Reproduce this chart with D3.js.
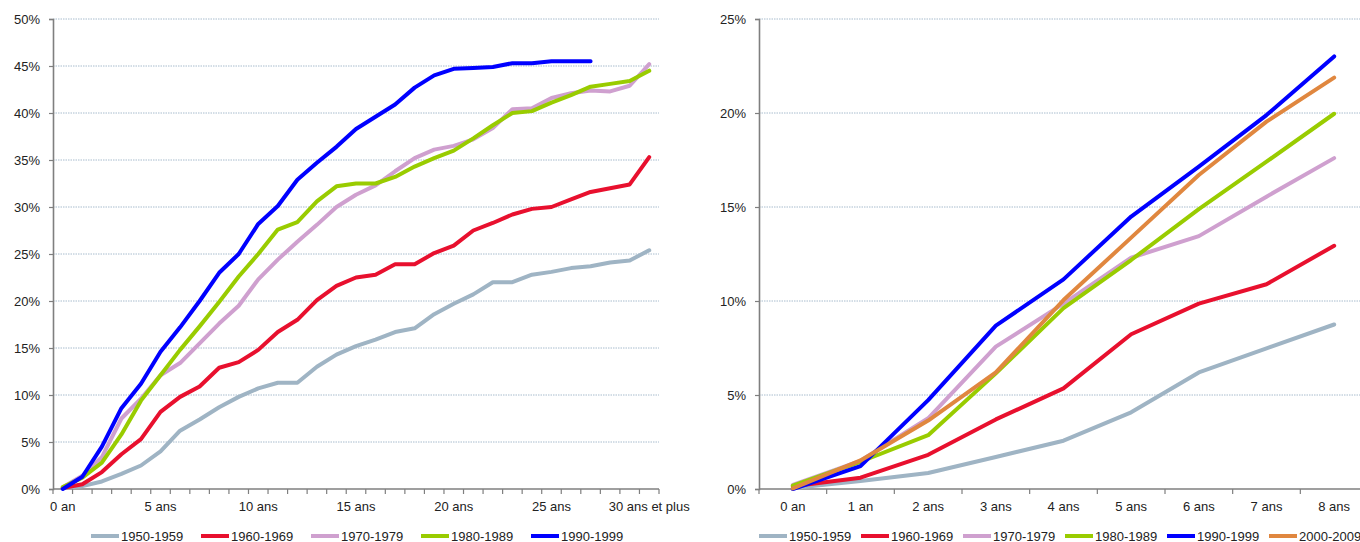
<!DOCTYPE html>
<html>
<head>
<meta charset="utf-8">
<script src="https://cdn.jsdelivr.net/npm/d3@7/dist/d3.min.js"></script>
<style>
  body { margin: 0; background: #fff; }
  svg { display: block; font-family: "Liberation Sans", Arial, sans-serif; }
</style>
</head>
<body>
<svg id="chart" width="1360" height="542"></svg>
<script>
// ---------- DATA ----------
const seriesNames = ["1950-1959", "1960-1969", "1970-1979", "1980-1989", "1990-1999", "2000-2009"];
const seriesColors = ["#9fb4c4", "#e8102e", "#cfa0cf", "#99cc00", "#0000ff", "#e0873f"];

// Left chart: categories 0 an ... 30 ans et plus (values in %)
const leftCategories = d3.range(0, 31).map(i => i === 0 ? "0 an" : (i === 1 ? "1 an" : (i === 30 ? "30 ans et plus" : i + " ans")));
const left1950 = [0.1,0.3,0.8,1.6,2.5,4.0,6.2,7.4,8.7,9.8,10.7,11.3,11.3,13.0,14.3,15.2,15.9,16.7,17.1,18.6,19.7,20.7,22.0,22.0,22.8,23.1,23.5,23.7,24.1,24.3,25.4];
const left1960 = [0.1,0.5,1.8,3.7,5.3,8.2,9.8,10.9,12.9,13.5,14.8,16.7,18.0,20.1,21.6,22.5,22.8,23.9,23.9,25.1,25.9,27.5,28.3,29.2,29.8,30.0,30.8,31.6,32.0,32.4,35.3];
const left1970 = [0.2,1.4,3.4,7.5,9.6,12.1,13.4,15.5,17.6,19.5,22.3,24.4,26.3,28.1,30.0,31.3,32.3,33.8,35.2,36.1,36.5,37.2,38.4,40.4,40.5,41.6,42.1,42.4,42.3,42.9,45.2];
const left1980 = [0.2,1.2,2.8,5.8,9.4,12.1,14.8,17.3,19.9,22.6,25.0,27.6,28.4,30.6,32.2,32.5,32.5,33.2,34.3,35.2,36.0,37.3,38.7,40.0,40.2,41.1,41.9,42.8,43.1,43.4,44.5];
const left1990 = [0.0,1.3,4.5,8.6,11.2,14.6,17.2,20.0,23.0,25.0,28.2,30.1,32.9,34.7,36.4,38.3,39.6,40.9,42.7,44.0,44.7,44.8,44.9,45.3,45.3,45.5,45.5,45.5,null,null,null];
const leftLabelEvery = 5;
const leftYTicks = [0, 5, 10, 15, 20, 25, 30, 35, 40, 45, 50];

// Right chart: categories 0 an ... 8 ans (values in %)
const rightCategories = ["0 an", "1 an", "2 ans", "3 ans", "4 ans", "5 ans", "6 ans", "7 ans", "8 ans"];
const right1950 = [0.05,0.43,0.85,1.7,2.57,4.08,6.2,7.48,8.75];
const right1960 = [0.15,0.6,1.82,3.7,5.35,8.23,9.86,10.89,12.94];
const right1970 = [0.22,1.5,3.76,7.57,9.86,12.3,13.45,15.55,17.6];
const right1980 = [0.18,1.45,2.86,6.15,9.62,12.18,14.89,17.41,19.96];
const right1990 = [0.0,1.22,4.73,8.69,11.15,14.49,17.15,19.89,23.01];
const right2000 = [0.03,1.52,3.64,6.2,10.05,13.37,16.7,19.54,21.88];
const rightYTicks = [0, 5, 10, 15, 20, 25];

// ---------- DRAW ----------
const svg = d3.select("#chart");
const pct = d3.format(".0%");

function drawChart(cfg) {
  const g = svg.append("g");
  const x = d3.scaleBand().domain(d3.range(cfg.categories.length)).range([cfg.x0, cfg.x1]).paddingInner(0).paddingOuter(0);
  const y = d3.scaleLinear().domain([0, cfg.yMax]).range([cfg.yBottom, cfg.yTop]);
  const bw = x.bandwidth();
  const cx = i => x(i) + bw / 2;

  // gridlines
  g.append("g").selectAll("line").data(cfg.yTicks.filter(t => t > 0)).join("line")
    .attr("x1", cfg.x0).attr("x2", cfg.gridEnd)
    .attr("y1", d => y(d)).attr("y2", d => y(d))
    .attr("stroke", "#a8bccd").attr("stroke-width", 1).attr("stroke-dasharray", "1.5,1");

  // y axis
  const yAxis = d3.axisLeft(y).tickValues(cfg.yTicks).tickFormat(d => pct(d / 100)).tickSize(4).tickPadding(9);
  const ya = g.append("g").attr("transform", `translate(${cfg.x0},0)`).call(yAxis);
  ya.select(".domain").attr("stroke", "#7f7f7f").attr("stroke-width", 1.6);
  ya.selectAll(".tick line").attr("stroke", "#7f7f7f").attr("stroke-width", 1.2);
  ya.selectAll(".tick text").attr("fill", "#222").style("font-size", "13px");

  // x axis line
  g.append("line").attr("x1", cfg.x0).attr("x2", cfg.x1)
    .attr("y1", cfg.yBottom).attr("y2", cfg.yBottom)
    .attr("stroke", "#7f7f7f").attr("stroke-width", 1.6);
  // x ticks at category boundaries
  const bounds = d3.range(cfg.categories.length + 1).map(i => i < cfg.categories.length ? x(i) : x(i - 1) + bw);
  g.append("g").selectAll("line").data(bounds).join("line")
    .attr("x1", d => d).attr("x2", d => d)
    .attr("y1", cfg.yBottom).attr("y2", cfg.yBottom + 5)
    .attr("stroke", "#7f7f7f").attr("stroke-width", 1.2);
  // x labels
  g.append("g").selectAll("text").data(cfg.categories.map((c, i) => ({c, i})).filter(d => d.i % cfg.labelEvery === 0)).join("text")
    .attr("x", d => cx(d.i)).attr("y", cfg.yBottom + 22)
    .attr("text-anchor", "middle").attr("fill", "#222").style("font-size", "13px")
    .text(d => d.c);

  // lines
  const line = d3.line().defined(d => d.v !== null).x(d => cx(d.i)).y(d => y(d.v));
  cfg.series.forEach((s, k) => {
    g.append("path")
      .datum(s.map((v, i) => ({v, i})))
      .attr("d", line)
      .attr("fill", "none")
      .attr("stroke", seriesColors[k])
      .attr("stroke-width", 4)
      .attr("stroke-linejoin", "round")
      .attr("stroke-linecap", "round");
  });

  // legend
  const lg = g.append("g");
  cfg.series.forEach((s, k) => {
    const lx = cfg.legendX + k * cfg.legendStep;
    lg.append("line").attr("x1", lx).attr("x2", lx + 28).attr("y1", 536).attr("y2", 536)
      .attr("stroke", seriesColors[k]).attr("stroke-width", 4).attr("stroke-linecap", "butt");
    lg.append("text").attr("x", lx + 30).attr("y", 540.5).attr("fill", "#222").style("font-size", "13px")
      .text(seriesNames[k]);
  });
}

drawChart({
  categories: leftCategories,
  series: [left1950, left1960, left1970, left1980, left1990],
  x0: 53, x1: 659, gridEnd: 659, yTop: 19, yBottom: 489, yMax: 50,
  yTicks: leftYTicks, labelEvery: leftLabelEvery,
  legendX: 91, legendStep: 110
});

drawChart({
  categories: rightCategories,
  series: [right1950, right1960, right1970, right1980, right1990, right2000],
  x0: 759, x1: 1368, gridEnd: 1368, yTop: 19, yBottom: 489, yMax: 25,
  yTicks: rightYTicks, labelEvery: 1,
  legendX: 759, legendStep: 102
});
</script>
</body>
</html>
